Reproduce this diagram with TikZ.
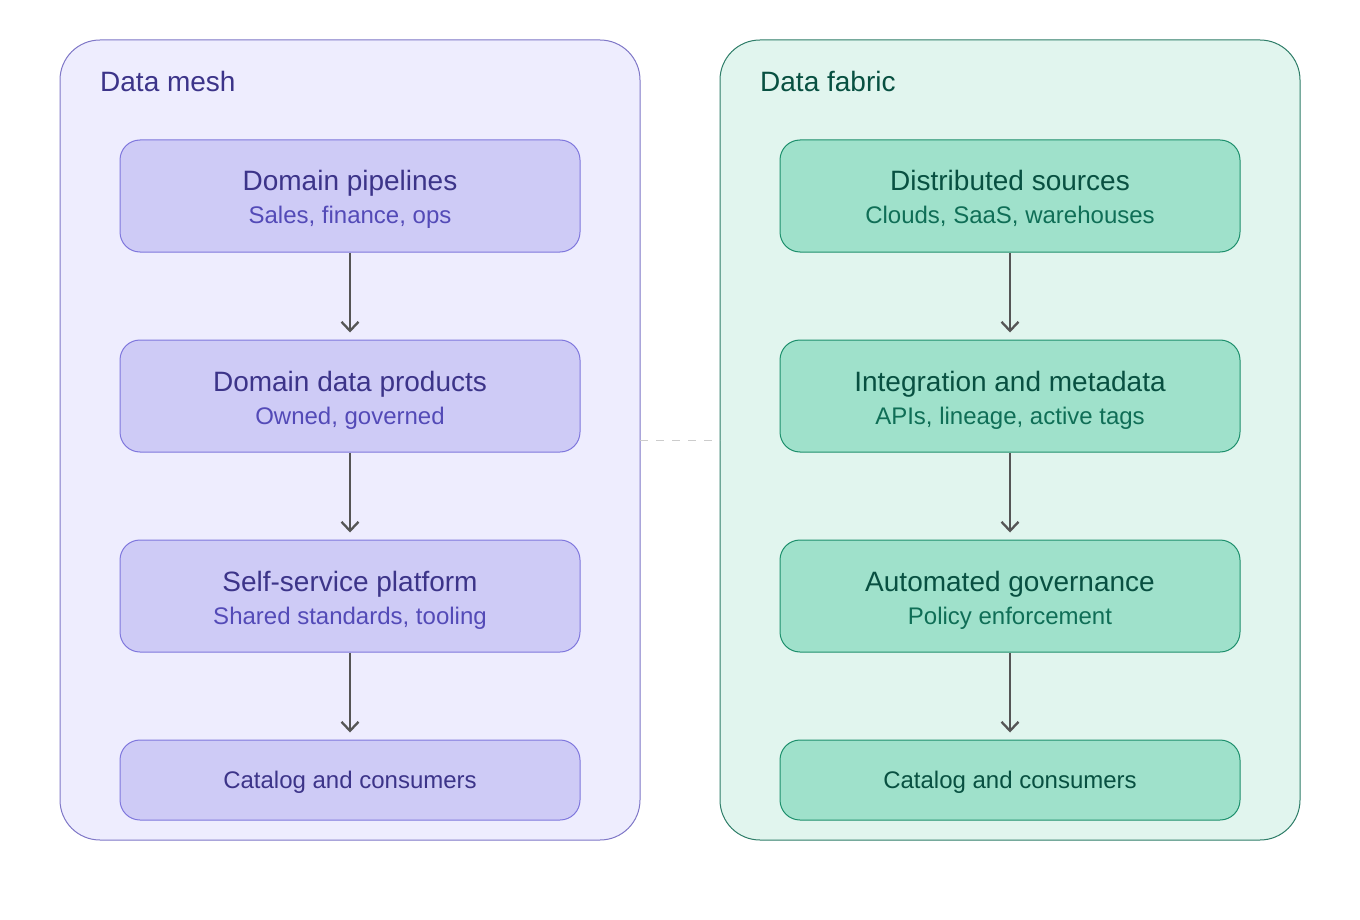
\documentclass[tikz,border=0pt]{standalone}
\usepackage{fontspec}
\setmainfont{Liberation Sans}
\usetikzlibrary{arrows.meta}
\definecolor{mOutFill}{HTML}{EEEDFE}
\definecolor{mOutDraw}{HTML}{7F77C7}
\definecolor{mInFill}{HTML}{CECBF6}
\definecolor{mInDraw}{HTML}{7F77DD}
\definecolor{mText}{HTML}{3C3489}
\definecolor{mSub}{HTML}{534AB7}
\definecolor{fOutFill}{HTML}{E1F5EE}
\definecolor{fOutDraw}{HTML}{2E7D68}
\definecolor{fInFill}{HTML}{9FE1CB}
\definecolor{fInDraw}{HTML}{1D8F6C}
\definecolor{fText}{HTML}{085041}
\definecolor{fSub}{HTML}{0F6E56}
\definecolor{arr}{HTML}{555555}
\begin{document}
\begin{tikzpicture}[x=1pt,y=-1pt,
  outerbox/.style={rounded corners=40pt, line width=1pt},
  innerbox/.style={rounded corners=20pt, line width=1pt, minimum width=460pt, inner sep=0pt, align=center},
  flow/.style={draw=arr, line width=2.3pt, -{Straight Barb[length=9pt,width=17pt,line width=2.3pt]}},
  ttl/.style={font=\fontsize{28}{32}\selectfont, anchor=base west, inner sep=0pt},
  hd/.style={font=\fontsize{28}{32}\selectfont, anchor=base, inner sep=0pt},
  sb/.style={font=\fontsize{24}{28}\selectfont, anchor=base, inner sep=0pt},
]
\useasboundingbox (0,0) rectangle (1360,920);
% outer containers
\draw[outerbox, fill=mOutFill, draw=mOutDraw] (60,40) rectangle (640,840);
\draw[outerbox, fill=fOutFill, draw=fOutDraw] (720,40) rectangle (1300,840);
\node[ttl, text=mText] (mt) at (100,92) {Data mesh};
\node[ttl, text=fText] (ft) at (760,92) {Data fabric};
% dashed link
\coordinate (dl) at (640,440);
\coordinate (dr) at (720,440);
\draw[draw=black!20, line width=1pt, dash pattern=on 8pt off 8pt] (dl) -- (dr);
% mesh boxes
\foreach \n/\y/\a/\b in {m1/196/Domain pipelines/{Sales, finance, ops},
                          m2/396/Domain data products/{Owned, governed},
                          m3/596/Self-service platform/{Shared standards, tooling}}{
  \node[innerbox, fill=mInFill, draw=mInDraw, minimum height=112pt] (\n) at (350,\y) {};
  \node[hd, text=mText] at (350,\y-5) {\a};
  \node[sb, text=mSub] at (350,\y+28) {\b};
}
\node[innerbox, fill=mInFill, draw=mInDraw, minimum height=80pt] (m4) at (350,780) {};
\node[sb, text=mText] (m4t) at (350,788) {Catalog and consumers};
% fabric boxes
\foreach \n/\y/\a/\b in {f1/196/Distributed sources/{Clouds, SaaS, warehouses},
                          f2/396/Integration and metadata/{APIs, lineage, active tags},
                          f3/596/Automated governance/{Policy enforcement}}{
  \node[innerbox, fill=fInFill, draw=fInDraw, minimum height=112pt] (\n) at (1010,\y) {};
  \node[hd, text=fText] at (1010,\y-5) {\a};
  \node[sb, text=fSub] at (1010,\y+28) {\b};
}
\node[innerbox, fill=fInFill, draw=fInDraw, minimum height=80pt] (f4) at (1010,780) {};
\node[sb, text=fText] (f4t) at (1010,788) {Catalog and consumers};
% arrows
\draw[flow] (m1.south) -- ([yshift=7pt]m2.north);
\draw[flow] (m2.south) -- ([yshift=7pt]m3.north);
\draw[flow] (m3.south) -- ([yshift=7pt]m4.north);
\draw[flow] (f1.south) -- ([yshift=7pt]f2.north);
\draw[flow] (f2.south) -- ([yshift=7pt]f3.north);
\draw[flow] (f3.south) -- ([yshift=7pt]f4.north);
\end{tikzpicture}
\end{document}
